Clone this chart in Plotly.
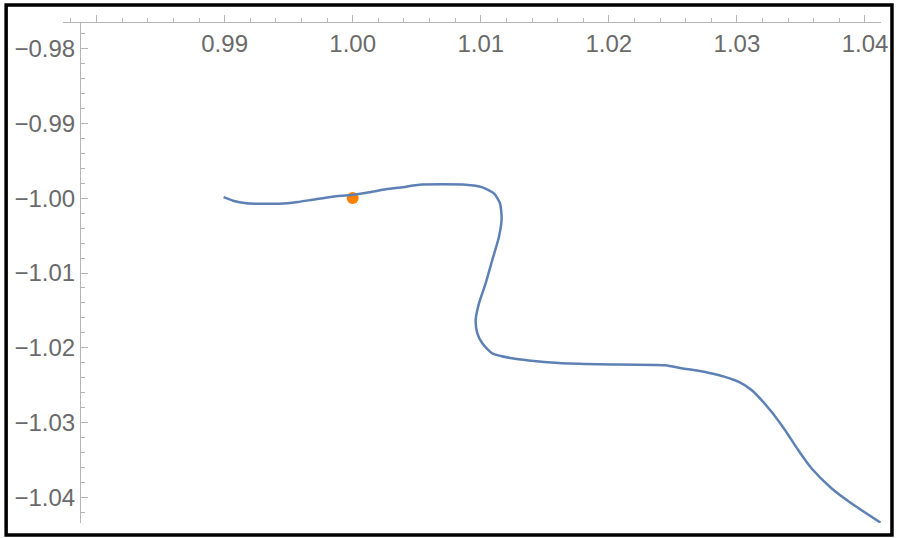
import plotly.graph_objects as go

# Curve data
curve_x = [0.98992, 0.99065, 0.99169, 0.99428, 0.99571, 0.99688, 0.99843, 0.99989,
           1.00129, 1.00259, 1.00415, 1.00519, 1.00882, 1.01012, 1.01103, 1.01150,
           1.01163, 1.01142, 1.01090, 1.01038, 1.00986, 1.00960, 1.00973, 1.01012,
           1.01090, 1.01245, 1.01375, 1.01609, 1.01921, 1.02440, 1.02569, 1.02699,
           1.02855, 1.03011, 1.03114, 1.03270, 1.03375, 1.03478, 1.03582, 1.03738,
           1.03893, 1.04122]
curve_y = [-0.99988, -1.00035, -1.00069, -1.00075, -1.00052, -1.00021, -0.99981, -0.99959,
           -0.99923, -0.99883, -0.99848, -0.99821, -0.99821, -0.99856, -0.99936, -1.00069,
           -1.00270, -1.00515, -1.00826, -1.01138, -1.01405, -1.01628, -1.01806, -1.01939,
           -1.02072, -1.02139, -1.02168, -1.02202, -1.02219, -1.02232, -1.02272, -1.02304,
           -1.02362, -1.02451, -1.02562, -1.02852, -1.03096, -1.03363, -1.03607, -1.03874,
           -1.04075, -1.04334]

point_x = [1.0]
point_y = [-1.0]

x_tickvals = [0.98, 0.99, 1.00, 1.01, 1.02, 1.03, 1.04]
x_ticktext = ["", "0.99", "1.00", "1.01", "1.02", "1.03", "1.04"]
y_tickvals = [-0.98, -0.99, -1.00, -1.01, -1.02, -1.03, -1.04]
y_ticktext = ["\u22120.98", "\u22120.99", "\u22121.00", "\u22121.01", "\u22121.02", "\u22121.03", "\u22121.04"]

x_range = [0.97738, 1.04125]
y_range = [-1.04338, -0.97662]

axis_col = "#b5b5b5"
lab_col = "#6a6a6a"
font_fam = "Liberation Sans, Arial, sans-serif"
fsize = 24

fig = go.Figure()
fig.add_trace(go.Scatter(x=curve_x, y=curve_y, mode="lines", xaxis="x2", yaxis="y",
                         line=dict(color="#5E81B5", width=2.5, shape="spline", smoothing=0.6),
                         hoverinfo="skip", showlegend=False))
fig.add_trace(go.Scatter(x=point_x, y=point_y, mode="markers", xaxis="x", yaxis="y",
                         marker=dict(color="#FF8000", size=12, line=dict(width=0)),
                         showlegend=False))

fig.update_layout(
    width=900, height=538,
    margin=dict(l=63, r=17, t=23, b=15),
    paper_bgcolor="white", plot_bgcolor="white",
    font=dict(family=font_fam, color=lab_col, size=fsize),
    xaxis=dict(range=x_range, side="top", showline=True, linecolor=axis_col, linewidth=1,
               showgrid=False, zeroline=False, ticks="outside", ticklen=7, tickcolor=axis_col,
               tickvals=x_tickvals, showticklabels=False,
               minor=dict(tick0=0.98, dtick=0.002, ticks="outside", ticklen=4, tickcolor=axis_col,
                          showgrid=False)),
    xaxis2=dict(range=x_range, overlaying="x", side="bottom", anchor="free", position=1.0,
                showline=False, showgrid=False, zeroline=False, ticks="",
                tickvals=x_tickvals, ticktext=x_ticktext, ticklabelstandoff=4,
                tickfont=dict(size=fsize, color=lab_col, family=font_fam)),
    yaxis=dict(range=y_range, anchor="free", position=17 / 820, showline=True,
               linecolor=axis_col, linewidth=1, showgrid=False, zeroline=False,
               ticks="inside", ticklen=7, tickcolor=axis_col,
               tickvals=y_tickvals, ticktext=y_ticktext, ticklabelstandoff=0,
               minor=dict(tick0=-0.98, dtick=0.002, ticks="inside", ticklen=4, tickcolor=axis_col,
                          showgrid=False),
               tickfont=dict(size=fsize, color=lab_col, family=font_fam)),
    shapes=[dict(type="rect", xref="paper", yref="paper",
                 x0=(6 - 63) / 820, x1=(894 - 63) / 820,
                 y0=(523 - 535) / 500, y1=(523 - 5) / 500,
                 line=dict(color="black", width=3.5), fillcolor="rgba(0,0,0,0)", layer="above")],
)

fig.write_html("out.html", config={"displayModeBar": False},
               post_script="document.body.style.margin='0';document.body.style.padding='0';")
